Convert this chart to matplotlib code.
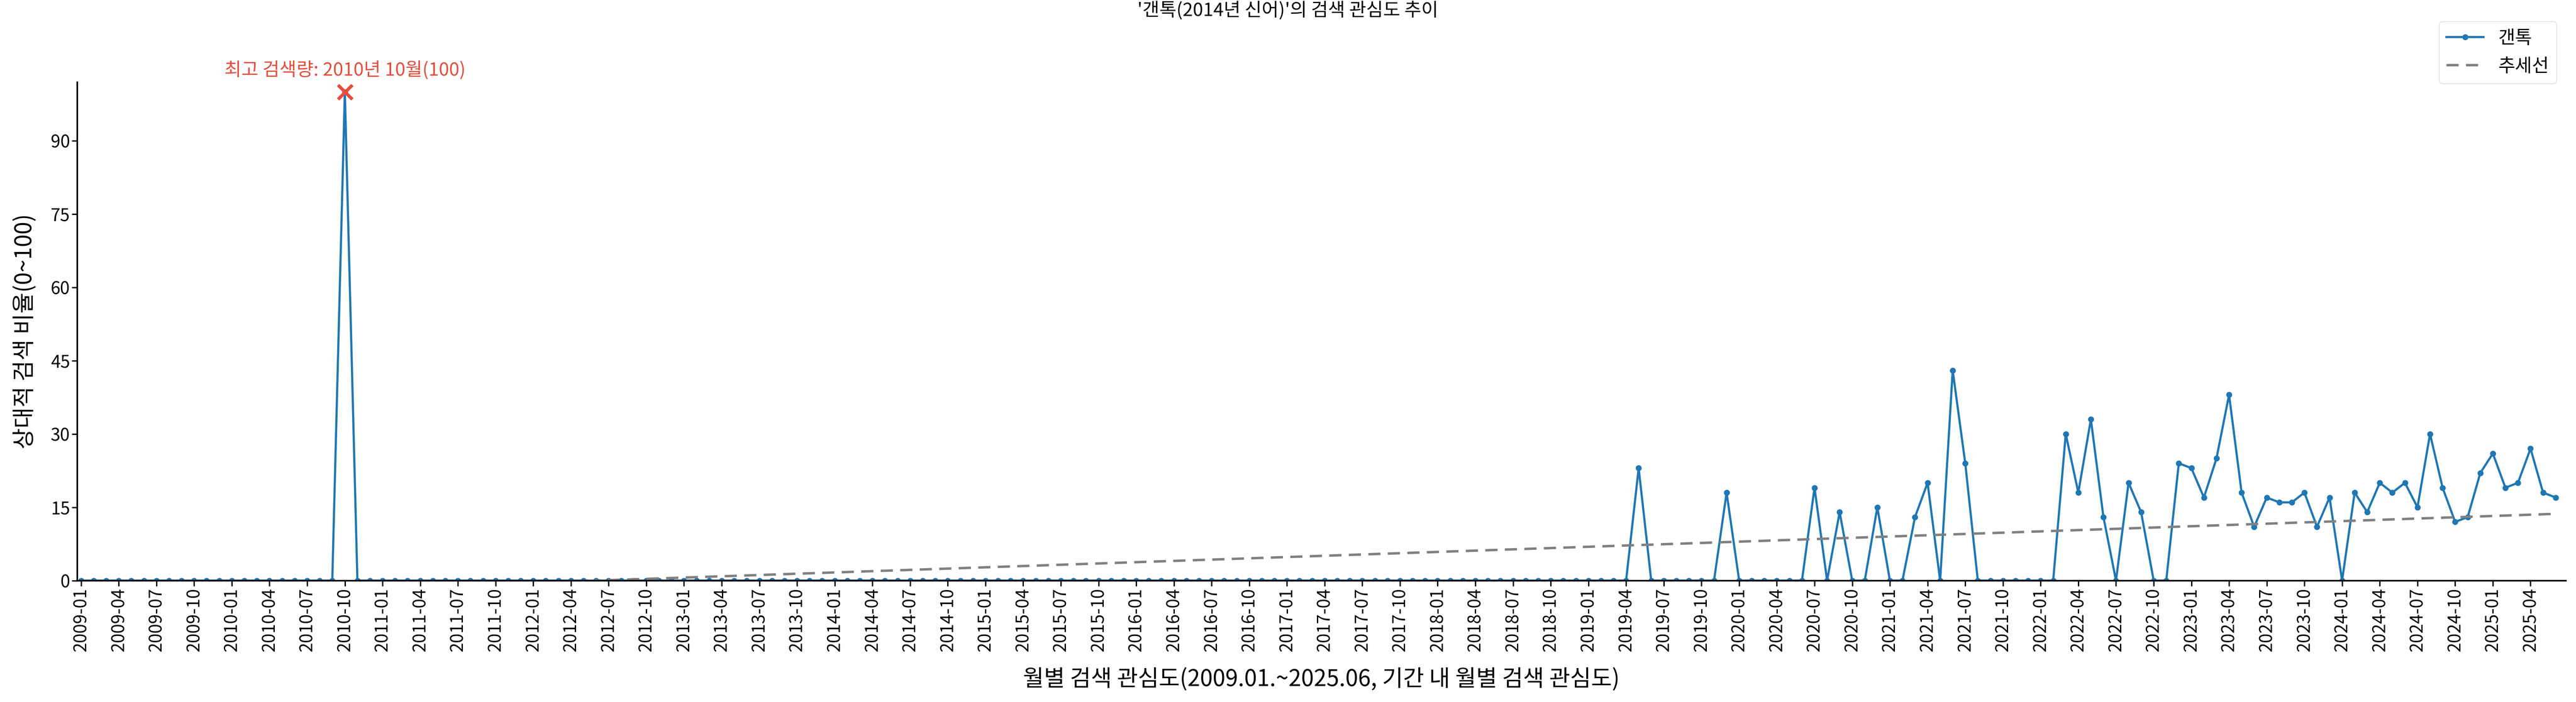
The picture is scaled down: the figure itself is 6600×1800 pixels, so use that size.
import numpy as np
import pandas as pd
import matplotlib
matplotlib.use("Agg")
import matplotlib.pyplot as plt

plt.rcParams['font.family'] = ['Noto Sans CJK KR', 'DejaVu Sans']

MONTHS = pd.date_range("2009-01", "2025-06", freq="MS").strftime("%Y-%m").tolist()
VALUES = [0] * 198
VALUES[21] = 100
SPIKES_2019 = {124: 23, 131: 18, 138: 19, 140: 14, 143: 15, 146: 13, 147: 20, 149: 43, 150: 24}
for k, v in SPIKES_2019.items():
    VALUES[k] = v
RECENT = [30, 18, 33, 13, 0, 20, 14, 0, 0, 24, 23, 17, 25, 38, 18, 11, 17, 16, 16, 18,
          11, 17, 0, 18, 14, 20, 18, 20, 15, 30, 19, 12, 13, 22, 26, 19, 20, 27, 18, 17]
VALUES[158:198] = RECENT

BLUE = "#1f77b4"
x = np.arange(len(MONTHS))
y = np.array(VALUES)

fig = plt.figure(figsize=(66, 18), dpi=100)
ax = fig.add_axes([0.03, 0.173, 0.966, 0.71])

ax.plot(x, y, color=BLUE, lw=4, marker="o", ms=10, label="갠톡")
coef = np.polyfit(x, y, 1)
ax.plot(x, np.polyval(coef, x), ls="--", color="gray", lw=4.5, dashes=(5, 3), label="추세선")

peak = int(np.argmax(y))
ax.scatter([x[peak]], [y[peak]], marker="x", s=700, color="#e74c3c", lw=6, zorder=5)
ax.annotate(f"최고 검색량: {MONTHS[peak][:4]}년 {MONTHS[peak][5:]}월({y[peak]})",
            (x[peak], y[peak]), xytext=(0, 22), textcoords="offset points",
            ha="center", va="bottom", color="#e74c3c", fontsize=34)

ax.set_xlim(-0.3, 197.8)
ax.set_ylim(0, 102)
ax.set_yticks(range(0, 91, 15))
ax.set_xticks(x[::3])
ax.set_xticklabels(MONTHS[::3], rotation=90)
ax.tick_params(axis="both", labelsize=32, length=10, width=2.5)
for s in ["top", "right"]:
    ax.spines[s].set_visible(False)
for s in ["left", "bottom"]:
    ax.spines[s].set_linewidth(3)

ax.set_xlabel("월별 검색 관심도(2009.01.~2025.06, 기간 내 월별 검색 관심도)", fontsize=42, labelpad=30)
ax.set_ylabel("상대적 검색 비율(0~100)", fontsize=42, labelpad=25)
fig.suptitle("'갠톡(2014년 신어)'의 검색 관심도 추이", fontsize=34, y=0.998)
ax.legend(loc="upper right", bbox_to_anchor=(1.0, 1.14), fontsize=34)

fig.savefig("out.png")
